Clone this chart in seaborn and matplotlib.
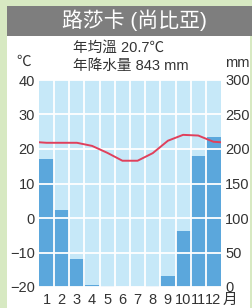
import numpy as np
import pandas as pd
import matplotlib
matplotlib.use("Agg")
import matplotlib.pyplot as plt
from matplotlib.patches import Rectangle
import seaborn as sns

months = ["1", "2", "3", "4", "5", "6", "7", "8", "9", "10", "11", "12"]
temp_c = [21.8, 21.8, 21.8, 20.9, 18.9, 16.6, 16.6, 18.8, 22.4, 24.1, 23.9, 22.1]
precip_mm = [186, 111, 40, 3, 2, 0, 0, 1, 16, 81, 190, 218]

title = "路莎卡 (尚比亞)"
info_lines = ["年均溫 20.7℃", "年降水量 843 mm"]

green = "#d7e9c2"
bar_bg = "#c6e8f8"
bar_col = "#5ba7dc"
line_col = "#e0405c"
txt_col = "#333333"

sns.set_style("white")
plt.rcParams["font.family"] = ["Liberation Sans", "Noto Sans CJK TC", "DejaVu Sans"]
plt.rcParams["axes.unicode_minus"] = True

W, H = 253, 308
fig = plt.figure(figsize=(W / 100, H / 100), dpi=100, facecolor=green)

def fx(px):
    return px / W

def fy(py):
    return 1 - py / H

# white panel and grey title bar
fig.patches.append(Rectangle((fx(7), 0), fx(243), fy(36), transform=fig.transFigure,
                             facecolor="white", edgecolor="none", zorder=-2))
fig.patches.append(Rectangle((fx(7), fy(36)), fx(246), (36 - 6) / H, transform=fig.transFigure,
                             facecolor="#7e7e7e", edgecolor="none", zorder=-2))
fig.text(fx(134), fy(20), title, color="white", fontsize=15, ha="center", va="center")

# precipitation axes (bars)
ax = fig.add_axes([fx(39), fy(287), fx(221 - 39), (287 - 80) / H])
ax.set_zorder(1)
ax.set_facecolor(bar_bg)
df = pd.DataFrame({"month": months, "precip": precip_mm})
sns.barplot(data=df, x="month", y="precip", color=bar_col, width=1.0,
            saturation=1, edgecolor="none", ax=ax)
ax.set_xlim(-0.5, 11.5)
ax.set_ylim(0, 300)
ax.set_yticks(range(0, 301, 50))
ax.set_xticks(np.arange(0.5, 11, 1), minor=True)
ax.set_axisbelow(False)
ax.grid(axis="y", which="major", color="white", lw=1.3)
ax.grid(axis="x", which="minor", color="white", lw=1.3)
ax.grid(axis="x", which="major", visible=False)
ax.set_xlabel("")
ax.set_ylabel("")
ax.set_xticks(range(12))
ax.set_xticklabels(months)
for s in ax.spines.values():
    s.set_visible(False)

# temperature axes (line)
ax_t = ax.twinx()
edge = (temp_c[0] + temp_c[-1]) / 2
line_x = [-0.5] + list(range(12)) + [11.5]
line_y = [edge] + temp_c + [edge]
sns.lineplot(x=line_x, y=line_y, color=line_col, lw=1.4, ax=ax_t)
ax_t.set_ylim(-20, 40)
ax_t.set_yticks(range(-20, 41, 10))
ax_t.yaxis.tick_left()
ax.yaxis.tick_right()
ax_t.tick_params(axis="y", length=0, colors=txt_col, labelsize=10.5, pad=3)
ax.tick_params(axis="both", which="both", length=0, colors=txt_col, labelsize=10.5)
ax.tick_params(axis="x", pad=4)
ax.tick_params(axis="y", pad=3)
for s in ax_t.spines.values():
    s.set_visible(False)
ax_t.set_ylabel("")

# unit labels and info text
fig.text(fx(24), fy(62), "℃", fontsize=10.5, color=txt_col, ha="center", va="center")
fig.text(fx(237), fy(63), "mm", fontsize=10.5, color=txt_col, ha="center", va="center")
fig.text(fx(222.5), fy(299.5), "月", fontsize=10.5, color=txt_col, ha="left", va="center")
fig.text(fx(73), fy(48), info_lines[0], fontsize=10.5, color=txt_col, ha="left", va="center")
fig.text(fx(73), fy(66), info_lines[1], fontsize=10.5, color=txt_col, ha="left", va="center")

fig.savefig("out.png", dpi=100, facecolor=green)
